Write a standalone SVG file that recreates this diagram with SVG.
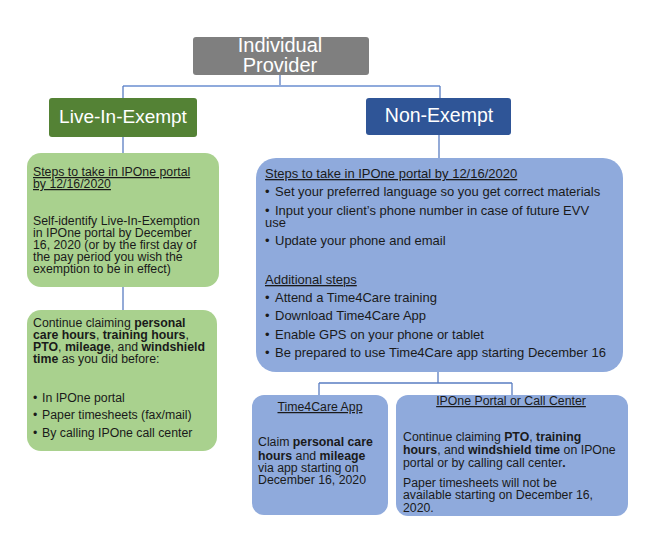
<svg xmlns="http://www.w3.org/2000/svg" width="653" height="549" viewBox="0 0 653 549">
<style>
.t{font-family:"Liberation Sans",Arial,sans-serif;font-size:12.3px;fill:#1a1a1a}
.m{font-size:13px}
.h{font-family:"Liberation Sans",Arial,sans-serif;fill:#ffffff;text-anchor:middle}
.u{text-decoration:underline}
.b{font-weight:bold}
.c{fill:none;stroke:#5a7dc2;stroke-width:1.3}
.cl{fill:none;stroke:#8faadc;stroke-width:2}
</style>
<rect width="653" height="549" fill="#ffffff"/>
<g id="connectors">
<path class="c" d="M280 75V86"/>
<path class="cl" d="M123 86H440"/>
<path class="c" d="M123 86V98M440 86V98"/>
<path class="c" d="M123 137V153M123 287V310"/>
<path class="c" d="M439 135V158"/>
<path class="c" d="M438 372V383M319 383H512M319 383V395M512 383V395"/>
</g>
<g id="individual-provider">
<rect x="193" y="37" width="176" height="38" rx="3" fill="#7f7f7f"/>
<text class="h" x="280" y="52" font-size="20">Individual</text>
<text class="h" x="280" y="72" font-size="20">Provider</text>
</g>
<g id="live-in-exempt">
<rect x="49" y="98" width="148" height="39" rx="3" fill="#548235"/>
<text class="h" x="123" y="123" font-size="19">Live-In-Exempt</text>
</g>
<g id="non-exempt">
<rect x="366" y="98" width="145" height="37" rx="3" fill="#2f5597"/>
<text class="h" x="439" y="122" font-size="19.5">Non-Exempt</text>
</g>
<g id="live-steps">
<rect x="27" y="153" width="192" height="134" rx="14" fill="#a9d18e"/>
<text class="t u" x="33" y="176">Steps to take in IPOne portal</text>
<text class="t u" x="33" y="188">by 12/16/2020</text>
<text class="t" x="33" y="225">Self-identify Live-In-Exemption</text>
<text class="t" x="33" y="237">in IPOne portal by December</text>
<text class="t" x="33" y="249">16, 2020 (or by the first day of</text>
<text class="t" x="33" y="261">the pay period you wish the</text>
<text class="t" x="33" y="273">exemption to be in effect)</text>
</g>
<g id="live-claiming">
<rect x="27" y="310" width="190" height="141" rx="14" fill="#a9d18e"/>
<text class="t" x="33" y="327">Continue claiming <tspan class="b">personal</tspan></text>
<text class="t" x="33" y="339"><tspan class="b">care hours</tspan>, <tspan class="b">training hours</tspan>,</text>
<text class="t" x="33" y="351"><tspan class="b">PTO</tspan>, <tspan class="b">mileage</tspan>, and <tspan class="b">windshield</tspan></text>
<text class="t" x="33" y="363"><tspan class="b">time</tspan> as you did before:</text>
<text class="t" x="33" y="402">•<tspan x="42">In IPOne portal</tspan></text>
<text class="t" x="33" y="419">•<tspan x="42">Paper timesheets (fax/mail)</tspan></text>
<text class="t" x="33" y="437">•<tspan x="42">By calling IPOne call center</tspan></text>
</g>
<g id="non-exempt-steps">
<rect x="256" y="158" width="367" height="214" rx="20" fill="#8faadc"/>
<text class="t m u" x="265" y="178">Steps to take in IPOne portal by 12/16/2020</text>
<text class="t m" x="265" y="196">•<tspan x="275">Set your preferred language so you get correct materials</tspan></text>
<text class="t m" x="265" y="215">•<tspan x="275">Input your client’s phone number in case of future EVV</tspan></text>
<text class="t m" x="265" y="227">use</text>
<text class="t m" x="265" y="245">•<tspan x="275">Update your phone and email</tspan></text>
<text class="t m u" x="265" y="284">Additional steps</text>
<text class="t m" x="265" y="302">•<tspan x="275">Attend a Time4Care training</tspan></text>
<text class="t m" x="265" y="320">•<tspan x="275">Download Time4Care App</tspan></text>
<text class="t m" x="265" y="339">•<tspan x="275">Enable GPS on your phone or tablet</tspan></text>
<text class="t m" x="265" y="357">•<tspan x="275">Be prepared to use Time4Care app starting December 16</tspan></text>
</g>
<g id="time4care-app">
<rect x="252" y="395" width="136" height="120" rx="12" fill="#8faadc"/>
<text class="t u" x="320" y="411" text-anchor="middle">Time4Care App</text>
<text class="t" x="258" y="446">Claim <tspan class="b">personal care</tspan></text>
<text class="t" x="258" y="460"><tspan class="b">hours</tspan> and <tspan class="b">mileage</tspan></text>
<text class="t" x="258" y="472">via app starting on</text>
<text class="t" x="258" y="484">December 16, 2020</text>
</g>
<g id="ipone-portal">
<rect x="396" y="395" width="232" height="121" rx="12" fill="#8faadc"/>
<text class="t u" x="511" y="405" text-anchor="middle">IPOne Portal or Call Center</text>
<text class="t" x="403" y="441">Continue claiming <tspan class="b">PTO</tspan>, <tspan class="b">training</tspan></text>
<text class="t" x="403" y="454"><tspan class="b">hours</tspan>, and <tspan class="b">windshield time</tspan> on IPOne</text>
<text class="t" x="403" y="467">portal or by calling call center<tspan class="b">.</tspan></text>
<text class="t" x="403" y="487">Paper timesheets will not be</text>
<text class="t" x="403" y="499">available starting on December 16,</text>
<text class="t" x="403" y="512">2020.</text>
</g>
</svg>
